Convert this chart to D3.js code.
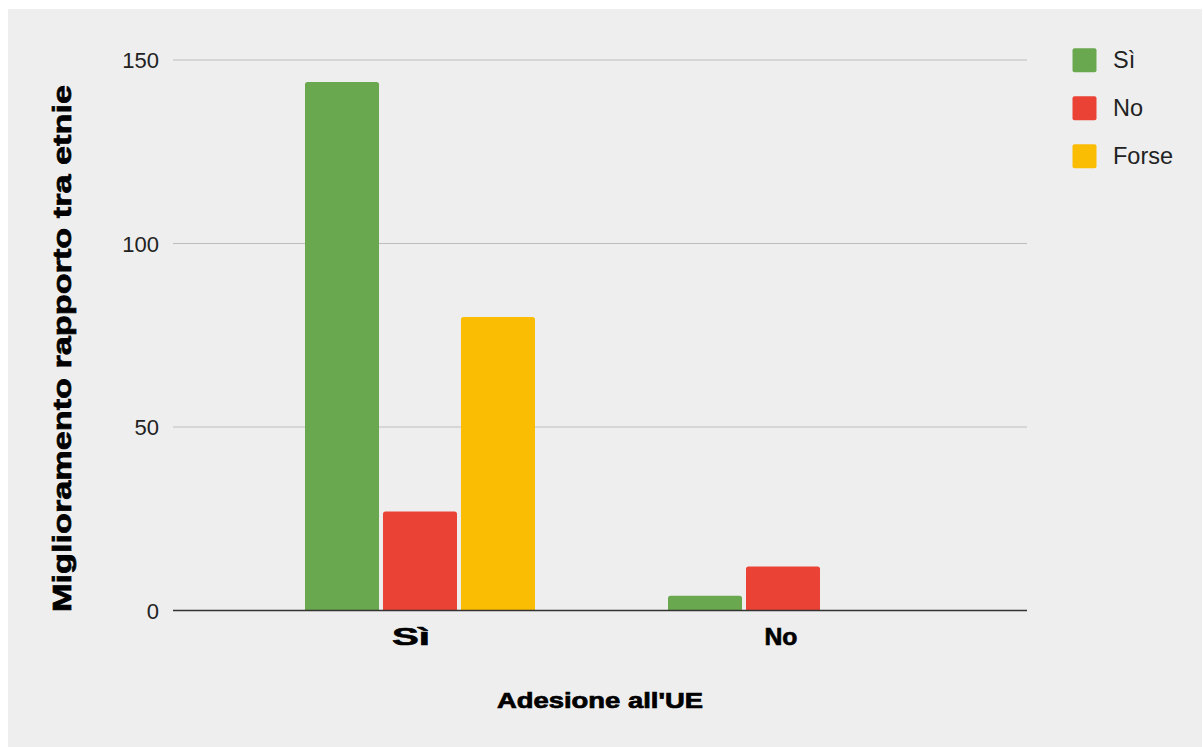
<!DOCTYPE html>
<html>
<head>
<meta charset="utf-8">
<script src="https://cdn.jsdelivr.net/npm/d3@7"></script>
<style>
  html, body { margin: 0; padding: 0; background: #ffffff; }
  svg { display: block; }
</style>
</head>
<body>
<svg id="chart" width="1203" height="747"></svg>
<script>
// ---- data ----
const categories = ["Sì", "No"];
const seriesNames = ["Sì", "No", "Forse"];
const valuesSi = [144, 4];
const valuesNo = [27, 12];
const valuesForse = [80, 0];
const yTicks = [0, 50, 100, 150];
const colors = ["#6aa84f", "#ea4335", "#fbbc04"];
const xTitle = "Adesione all'UE";
const yTitle = "Miglioramento rapporto tra etnie";

const seriesValues = [valuesSi, valuesNo, valuesForse];

const svg = d3.select("#chart");
const font = "'Liberation Sans', Arial, sans-serif";

// panel background
svg.append("rect").attr("x", 8).attr("y", 9).attr("width", 1194).attr("height", 738).attr("fill", "#eeeeee");

const plotLeft = 173, plotRight = 1027;
const y = d3.scaleLinear().domain([0, 150]).range([610.5, 60]);
const x0 = d3.scaleBand().domain(categories).range([238.5, 964.5]).padding(0);
const x1 = d3.scaleBand().domain(seriesNames)
  .range([(x0.bandwidth() - 230) / 2, (x0.bandwidth() + 230) / 2])
  .paddingInner(0.051).paddingOuter(0);

// gridlines
svg.append("g").selectAll("line").data(yTicks.filter(d => d !== 0)).join("line")
  .attr("x1", plotLeft).attr("x2", plotRight)
  .attr("y1", d => y(d)).attr("y2", d => y(d))
  .attr("stroke", "#bdbdbd").attr("stroke-width", 1.2);

// y tick labels
svg.append("g").selectAll("text").data(yTicks).join("text")
  .attr("x", 159).attr("y", d => y(d) + 8)
  .attr("text-anchor", "end")
  .attr("font-family", font).attr("font-size", 22).attr("fill", "#222")
  .text(d => d);

// bars
function topRounded(x, yTop, w, h, r) {
  if (h <= 0) return "";
  r = Math.min(r, h, w / 2);
  return `M${x},${yTop + h}V${yTop + r}Q${x},${yTop} ${x + r},${yTop}H${x + w - r}Q${x + w},${yTop} ${x + w},${yTop + r}V${yTop + h}Z`;
}
const barData = [];
categories.forEach((c, ci) => {
  seriesNames.forEach((s, si) => {
    barData.push({ cat: c, ser: s, val: seriesValues[si][ci], color: colors[si] });
  });
});
svg.append("g").selectAll("path").data(barData.filter(d => d.val > 0)).join("path")
  .attr("d", d => {
    const bx = x0(d.cat) + x1(d.ser);
    const yt = y(d.val);
    return topRounded(bx, yt, x1.bandwidth(), y(0) - yt, 2.5);
  })
  .attr("fill", d => d.color);

// baseline
svg.append("line").attr("x1", plotLeft).attr("x2", plotRight)
  .attr("y1", y(0)).attr("y2", y(0))
  .attr("stroke", "#333333").attr("stroke-width", 1.6);

// category labels
const catLabelWidth = { "Sì": 38, "No": 33 };
svg.append("g").selectAll("text").data(categories).join("text")
  .attr("x", d => x0(d) + x0.bandwidth() / 2 - (d === "Sì" ? 9 : 2))
  .attr("y", 645)
  .attr("text-anchor", "middle")
  .attr("font-family", font).attr("font-weight", "bold").attr("font-size", 23)
  .attr("textLength", d => catLabelWidth[d]).attr("lengthAdjust", "spacingAndGlyphs")
  .attr("stroke", "#000").attr("stroke-width", 0.6)
  .attr("fill", "#000")
  .text(d => d);

// x title
svg.append("text")
  .attr("x", 600).attr("y", 708)
  .attr("text-anchor", "middle")
  .attr("font-family", font).attr("font-weight", "bold").attr("font-size", 22)
  .attr("textLength", 206).attr("lengthAdjust", "spacingAndGlyphs")
  .attr("stroke", "#000").attr("stroke-width", 0.7)
  .attr("fill", "#000")
  .text(xTitle);

// y title
svg.append("text")
  .attr("transform", "translate(71,348.5) rotate(-90)")
  .attr("text-anchor", "middle")
  .attr("font-family", font).attr("font-weight", "bold").attr("font-size", 26)
  .attr("textLength", 527).attr("lengthAdjust", "spacingAndGlyphs")
  .attr("stroke", "#000").attr("stroke-width", 0.7)
  .attr("fill", "#000")
  .text(yTitle);

// legend
const legend = svg.append("g").selectAll("g").data(seriesNames).join("g")
  .attr("transform", (d, i) => `translate(1072.5,${48.3 + i * 48})`);
legend.append("rect").attr("width", 24).attr("height", 24).attr("rx", 2)
  .attr("fill", (d, i) => colors[i]);
legend.append("text").attr("x", 40.5).attr("y", 20)
  .attr("font-family", font).attr("font-size", 23.5).attr("fill", "#222")
  .text(d => d);
</script>
</body>
</html>
